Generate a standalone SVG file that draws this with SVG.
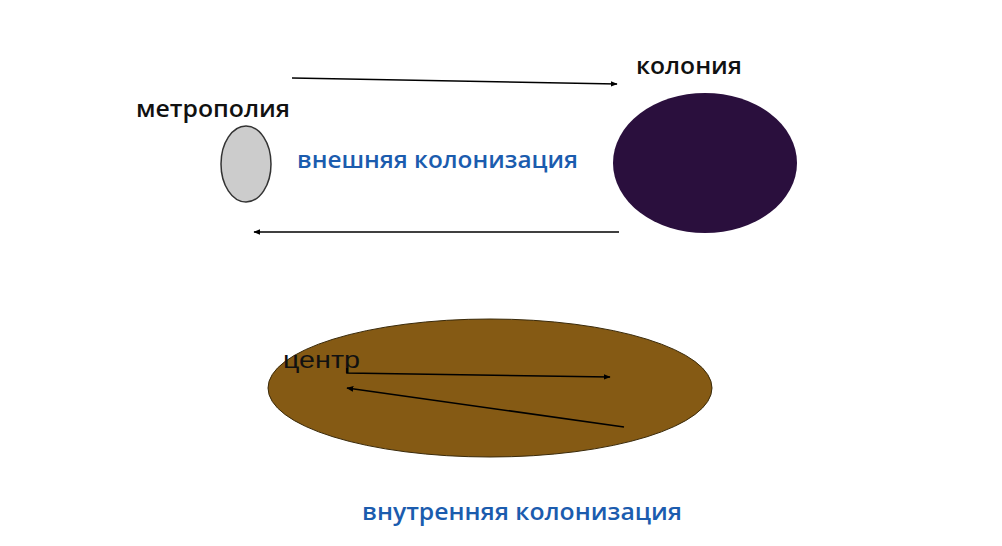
<svg xmlns="http://www.w3.org/2000/svg" width="1002" height="546" viewBox="0 0 1002 546">
<defs>
<marker id="ahs" viewBox="0 0 10 10" refX="9" refY="5" markerWidth="7" markerHeight="7" orient="auto" markerUnits="userSpaceOnUse">
<path d="M0,1 L10,5 L0,9 Z" fill="#000"/>
</marker>
</defs>
<style>
.lbl{font-family:"Open Sans","Liberation Sans",sans-serif;font-size:23px;font-weight:600;fill:#111}
.blue{font-family:"Open Sans","Liberation Sans",sans-serif;font-size:23px;font-weight:600;fill:#1b5cae}
.ctr{font-family:"Liberation Sans",Arial,sans-serif;font-size:23px;fill:#111}
.ln{stroke:#000;stroke-width:1.6;fill:none}
</style>
<rect width="1002" height="546" fill="#fff"/>
<g id="metropolia">
<ellipse cx="246" cy="164" rx="25" ry="38" fill="#cccccc" stroke="#333" stroke-width="1.5"/>
<text class="lbl" x="136" y="117" textLength="154" lengthAdjust="spacingAndGlyphs">метрополия</text>
</g>
<g id="kolonia">
<ellipse cx="705" cy="163" rx="92" ry="70" fill="#2a0f3d"/>
<text class="lbl" x="636" y="74" textLength="106" lengthAdjust="spacingAndGlyphs">колония</text>
</g>
<g id="vneshnyaya">
<text class="blue" x="297" y="168" textLength="281" lengthAdjust="spacingAndGlyphs">внешняя колонизация</text>
</g>
<g id="inner">
<ellipse cx="490" cy="388" rx="222" ry="69" fill="#855a14" stroke="#3a2a0a" stroke-width="1"/>
<text class="ctr" x="283" y="368" textLength="77" lengthAdjust="spacingAndGlyphs">центр</text>
</g>
<g id="vnutrennyaya">
<text class="blue" x="362" y="520" textLength="320" lengthAdjust="spacingAndGlyphs">внутренняя колонизация</text>
</g>
<g id="connectors">
<line class="ln" x1="292" y1="78" x2="617" y2="84" marker-end="url(#ahs)"/>
<line class="ln" x1="619" y1="232" x2="254" y2="232" marker-end="url(#ahs)"/>
<polyline class="ln" points="347,368 347,373 610,377" marker-end="url(#ahs)"/>
<line class="ln" x1="624" y1="427" x2="347" y2="388" stroke-width="2" marker-end="url(#ahs)"/>
</g>
</svg>
